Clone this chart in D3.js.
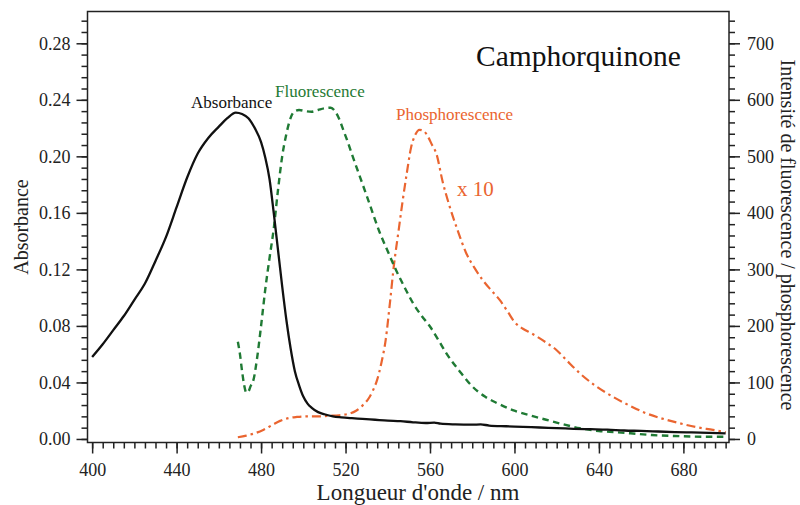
<!DOCTYPE html>
<html>
<head>
<meta charset="utf-8">
<script src="https://cdn.jsdelivr.net/npm/d3@7"></script>
<style>
  html, body { margin: 0; padding: 0; background: #fff; }
  svg { display: block; font-family: "Liberation Serif", "DejaVu Serif", serif; }
</style>
</head>
<body>
<svg id="chart" width="800" height="505"></svg>
<script>
// Absorbance spectrum (left axis)
const absNm  = [400, 405, 410, 415, 420, 425, 430, 435, 440, 445, 450, 455, 460, 464, 468, 471, 474, 477, 480, 482, 484, 486, 488, 490, 492, 494, 496, 498, 500, 502, 504, 507, 510, 514, 518, 523, 528, 534, 540, 546, 552, 558, 562, 565, 572, 580, 584, 588, 596, 604, 612, 620, 628, 636, 644, 652, 660, 668, 676, 684, 692, 700];
const absVal = [0.058, 0.067, 0.077, 0.087, 0.0985, 0.110, 0.126, 0.143, 0.164, 0.185, 0.202, 0.213, 0.221, 0.227, 0.231, 0.230, 0.227, 0.220, 0.210, 0.199, 0.184, 0.160, 0.134, 0.108, 0.084, 0.064, 0.048, 0.038, 0.030, 0.025, 0.022, 0.019, 0.0175, 0.016, 0.0153, 0.0147, 0.0142, 0.0136, 0.0130, 0.0126, 0.0118, 0.0113, 0.0116, 0.0108, 0.0103, 0.0101, 0.0103, 0.0095, 0.0090, 0.0086, 0.0081, 0.0077, 0.0072, 0.0069, 0.0066, 0.0060, 0.0057, 0.0053, 0.0049, 0.0046, 0.0043, 0.0040];

// Fluorescence intensity (right axis)
const flNm  = [469, 470, 471, 472, 473, 474, 475, 476.5, 478, 480, 482, 484, 486, 488, 490, 492, 494, 496, 498, 501, 504, 507, 510, 513, 515, 517, 519, 521, 523, 527, 531, 536, 540, 544, 548, 552, 556, 560, 564, 568, 574, 580, 586, 592, 600, 608, 615, 623, 631, 640, 648, 655, 665, 678, 690, 700];
const flVal = [172, 150, 120, 95, 82, 84, 93, 106, 140, 200, 265, 320, 372, 440, 500, 540, 568, 580, 582, 580, 579, 582, 585, 586, 580, 566, 546, 526, 504, 462, 420, 367, 332, 298, 268, 240, 218, 199, 175, 150, 120, 93, 75, 63, 50, 41, 34, 26, 19, 14, 12, 10, 7, 5, 4, 4];

// Phosphorescence intensity, scaled x 10 (right axis)
const phNm  = [469, 473, 477, 481, 485, 489, 493, 497, 502, 507, 512, 517, 522, 525, 528, 531, 533, 535, 537, 539, 541, 543, 545, 547, 549, 551, 553, 555, 557, 559, 561, 563, 566, 569, 573, 577, 581, 585, 589, 593, 597, 600, 604, 608, 612, 616, 620, 625, 631, 638, 646, 654, 662, 670, 678, 686, 694, 700];
const phVal = [3, 6, 10, 16, 24, 32, 37, 39, 40, 40, 41, 42, 45, 50, 59, 72, 86, 105, 135, 175, 240, 310, 365, 420, 470, 515, 538, 547, 545, 535, 520, 505, 455, 415, 370, 330, 303, 281, 263, 246, 224, 207, 195, 187, 178, 168, 157, 138, 116, 95, 76, 60, 46, 36, 28, 21, 16, 12];

// Tick values
const xMajor  = [400, 440, 480, 520, 560, 600, 640, 680];
const xMinor  = d3.range(400, 701, 5);
const yLMajor = [0.00, 0.04, 0.08, 0.12, 0.16, 0.20, 0.24, 0.28];
const yLMinor = d3.range(0, 0.2961, 0.008);
const yRMajor = [0, 100, 200, 300, 400, 500, 600, 700];
const yRMinor = d3.range(0, 741, 20);

const GREEN = "#1f7a34";
const ORANGE = "#ea6530";

const svg = d3.select("#chart");
const L = 87.5, R = 729, T = 11.5, B = 442.5;

const x  = d3.scaleLinear().domain([397.8, 701.6]).range([L, R]);
const yL = d3.scaleLinear().domain([-0.0025, 0.3025]).range([B, T]);
const yR = d3.scaleLinear().domain([-6.25, 756.25]).range([B, T]);

function styleAxis(g) {
  g.select(".domain").remove();
  g.selectAll("line").attr("stroke", "#222").attr("stroke-width", 1.5);
  g.selectAll("text").attr("fill", "#222").attr("font-size", 18)
    .attr("font-family", "Liberation Serif, serif");
}

// bottom axis
svg.append("g").attr("transform", `translate(0,${B})`)
  .call(d3.axisBottom(x).tickValues(xMinor).tickSize(6).tickFormat(""))
  .call(styleAxis);
svg.append("g").attr("transform", `translate(0,${B})`)
  .call(d3.axisBottom(x).tickValues(xMajor).tickSize(11).tickPadding(10).tickFormat(d3.format("d")))
  .call(styleAxis);

// left axis
svg.append("g").attr("transform", `translate(${L},0)`)
  .call(d3.axisLeft(yL).tickValues(yLMinor).tickSize(6).tickFormat(""))
  .call(styleAxis);
svg.append("g").attr("transform", `translate(${L},0)`)
  .call(d3.axisLeft(yL).tickValues(yLMajor).tickSize(11).tickPadding(6).tickFormat(d3.format(".2f")))
  .call(styleAxis);

// right axis
svg.append("g").attr("transform", `translate(${R},0)`)
  .call(d3.axisRight(yR).tickValues(yRMinor).tickSize(6).tickFormat(""))
  .call(styleAxis);
svg.append("g").attr("transform", `translate(${R},0)`)
  .call(d3.axisRight(yR).tickValues(yRMajor).tickSize(11).tickPadding(7).tickFormat(d3.format("d")))
  .call(styleAxis);

// frame
svg.append("rect").attr("x", L).attr("y", T).attr("width", R - L).attr("height", B - T)
  .attr("fill", "none").attr("stroke", "#222").attr("stroke-width", 1.5);

// curves
svg.append("clipPath").attr("id", "plot-clip")
  .append("rect").attr("x", L).attr("y", T).attr("width", R - L).attr("height", B - T);

const plot = svg.append("g").attr("clip-path", "url(#plot-clip)");

const lineL = d3.line().x(d => x(d[0])).y(d => yL(d[1])).curve(d3.curveMonotoneX);
const lineR = d3.line().x(d => x(d[0])).y(d => yR(d[1])).curve(d3.curveMonotoneX);

plot.append("path").datum(d3.zip(phNm, phVal)).attr("d", lineR)
  .attr("fill", "none").attr("stroke", ORANGE).attr("stroke-width", 2.2)
  .attr("stroke-dasharray", "9,4,2.5,4");

plot.append("path").datum(d3.zip(flNm, flVal)).attr("d", lineR)
  .attr("fill", "none").attr("stroke", GREEN).attr("stroke-width", 2.4)
  .attr("stroke-dasharray", "6.5,4.5");

plot.append("path").datum(d3.zip(absNm, absVal)).attr("d", lineL)
  .attr("fill", "none").attr("stroke", "#111").attr("stroke-width", 2.3)
  .attr("stroke-linejoin", "round");

// axis titles
svg.append("text").attr("transform", "translate(28,227) rotate(-90)")
  .attr("text-anchor", "middle").attr("font-size", 20).attr("fill", "#222").text("Absorbance");
svg.append("text").attr("transform", "translate(781,235) rotate(90)")
  .attr("text-anchor", "middle").attr("font-size", 20).attr("fill", "#222")
  .text("Intensité de fluorescence / phosphorescence");
svg.append("text").attr("x", 418).attr("y", 500)
  .attr("text-anchor", "middle").attr("font-size", 23).attr("fill", "#222").text("Longueur d'onde / nm");

// title and series labels
svg.append("text").attr("x", 476).attr("y", 66).attr("font-size", 29.5).attr("fill", "#111").text("Camphorquinone");
svg.append("text").attr("x", 191).attr("y", 108).attr("font-size", 17).attr("fill", "#111").text("Absorbance");
svg.append("text").attr("x", 275).attr("y", 97).attr("font-size", 17).attr("fill", GREEN).text("Fluorescence");
svg.append("text").attr("x", 396).attr("y", 120).attr("font-size", 17).attr("fill", ORANGE).text("Phosphorescence");
svg.append("text").attr("x", 457).attr("y", 196).attr("font-size", 21).attr("fill", ORANGE).text("x 10");
</script>
</body>
</html>
